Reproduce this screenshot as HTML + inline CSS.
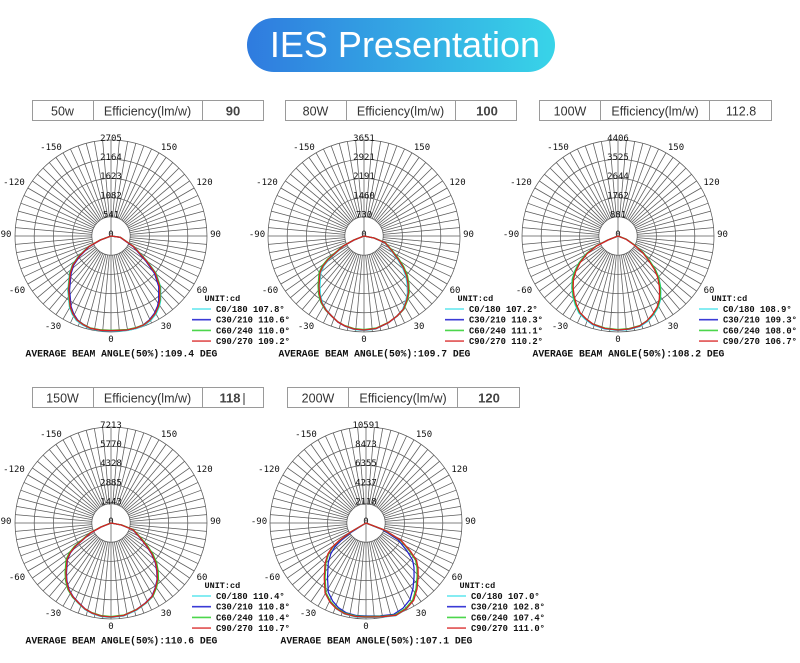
<!DOCTYPE html>
<html>
<head>
<meta charset="utf-8">
<style>
html,body{margin:0;padding:0;background:#fff;}
svg{display:block;}
.t{font-family:"Liberation Sans",Arial,sans-serif;}
.a{font-family:"DejaVu Sans Mono","Liberation Mono",monospace;font-size:9px;fill:#111;text-anchor:middle;}
.lg{font-family:"Liberation Mono",monospace;font-size:8.8px;font-weight:bold;fill:#111;}
.un{font-family:"Liberation Mono",monospace;font-size:8.5px;font-weight:bold;fill:#111;}
.av{font-family:"Liberation Mono",monospace;font-size:9.7px;font-weight:bold;fill:#111;}
.h{font-family:"Liberation Sans",Arial,sans-serif;font-size:12.5px;fill:#333;text-anchor:middle;}
.hv{font-family:"Liberation Sans",Arial,sans-serif;font-size:13px;fill:#444;text-anchor:middle;font-weight:bold;}
</style>
</head>
<body>
<svg width="800" height="663" viewBox="0 0 800 663" xmlns="http://www.w3.org/2000/svg" xmlns:xlink="http://www.w3.org/1999/xlink">
<defs>
<linearGradient id="pg" x1="0" x2="1" y1="0" y2="0">
<stop offset="0" stop-color="#2f7bdf"/>
<stop offset="1" stop-color="#38d4e8"/>
</linearGradient>
<path id="sp" d="M0,19.2V96M0,-19.2V-96"/>
<g id="grid" fill="none" stroke="#5a5a5a" stroke-width="0.75">
<circle r="19.2"/><circle r="38.4"/><circle r="57.6"/><circle r="76.8"/><circle r="96"/>
<path d="M0,-19.2V19.2"/>
<use href="#sp"/>
<use href="#sp" transform="rotate(5)"/>
<use href="#sp" transform="rotate(10)"/>
<use href="#sp" transform="rotate(15)"/>
<use href="#sp" transform="rotate(20)"/>
<use href="#sp" transform="rotate(25)"/>
<use href="#sp" transform="rotate(30)"/>
<use href="#sp" transform="rotate(35)"/>
<use href="#sp" transform="rotate(40)"/>
<use href="#sp" transform="rotate(45)"/>
<use href="#sp" transform="rotate(50)"/>
<use href="#sp" transform="rotate(55)"/>
<use href="#sp" transform="rotate(60)"/>
<use href="#sp" transform="rotate(65)"/>
<use href="#sp" transform="rotate(70)"/>
<use href="#sp" transform="rotate(75)"/>
<use href="#sp" transform="rotate(80)"/>
<use href="#sp" transform="rotate(85)"/>
<use href="#sp" transform="rotate(90)"/>
<use href="#sp" transform="rotate(95)"/>
<use href="#sp" transform="rotate(100)"/>
<use href="#sp" transform="rotate(105)"/>
<use href="#sp" transform="rotate(110)"/>
<use href="#sp" transform="rotate(115)"/>
<use href="#sp" transform="rotate(120)"/>
<use href="#sp" transform="rotate(125)"/>
<use href="#sp" transform="rotate(130)"/>
<use href="#sp" transform="rotate(135)"/>
<use href="#sp" transform="rotate(140)"/>
<use href="#sp" transform="rotate(145)"/>
<use href="#sp" transform="rotate(150)"/>
<use href="#sp" transform="rotate(155)"/>
<use href="#sp" transform="rotate(160)"/>
<use href="#sp" transform="rotate(165)"/>
<use href="#sp" transform="rotate(170)"/>
<use href="#sp" transform="rotate(175)"/>
</g>
<path id="c1" d="M0,0 L-10.7,4 L-22.3,10.7 L-32.3,20.7 L-38,29 L-40.7,37.3 L-42.3,54 L-40.7,70.7 L-38,78 L-34,84 L-28,88.5 L-20.7,92.3 L-10,94.3 L0,94.7 L16,94 L25,92 L32.7,89 L39,84 L44.3,77.3 L47.5,70 L48.7,64 L48.7,50.7 L44.3,37.3 L36,25.7 L22.7,10.7 L9.3,1.3 Z"/>
<path id="c2" d="M0,0 L-10,4 L-20.7,10 L-35.7,23.3 L-41,30 L-44,36.7 L-45,50 L-44.5,58 L-42.3,66.7 L-38,74 L-32.3,80 L-26,86 L-19,90 L-10,93 L0,94 L12,92.5 L24.3,86.7 L33,80 L39.3,73.3 L42.5,65 L44.3,56.7 L44,48 L42.7,40 L39,31 L34.3,23.3 L28,15 L21,6.7 L10,2 Z"/>
<path id="c3" d="M0,0 L-10,4 L-21.7,10 L-31,17.5 L-38.3,26.7 L-42.5,35 L-45,43.3 L-45.3,52 L-44.3,60 L-42,68.5 L-38.3,76.7 L-32,83 L-25,88.3 L-13,92.5 L0,94 L11,93 L21.7,90 L29,85 L35,78.3 L39.5,71 L41.7,63.3 L42,56 L41.7,50 L40,41 L36.7,33.3 L31,24.5 L25,16.7 L17,9.5 L8.3,3.3 Z"/>
<path id="c4" d="M0,0 L-10,4 L-20.7,10 L-35.7,23.3 L-41,30 L-44,36.7 L-45,50 L-44.5,58 L-42.3,66.7 L-38,74 L-32.3,80 L-26,86 L-19,90 L-10,93 L0,94 L12.6,92.5 L25.5,86.7 L34.6,80 L41.3,73.3 L44.6,65 L46.5,56.7 L46.2,48 L44.8,40 L41,31 L36,23.3 L29.4,15 L22,6.7 L10.5,2 Z"/>
<path id="c5" d="M0,0 L-15,9 L-26,17.5 L-32.7,24 L-37,31 L-39.7,40 L-40.5,55 L-39.7,70 L-35,79 L-29,85.5 L-21,90.6 L-10,93.5 L0,94 L15,93.8 L29,92.3 L39,86 L46.3,77.3 L49.5,66 L50.6,54 L50.5,45 L49,37.3 L43,28 L34,17.3 L18,7 Z"/>
</defs>

<rect x="0" y="0" width="800" height="663" fill="#fff"/>

<!-- Title -->
<rect x="247" y="18" width="308" height="54" rx="27" ry="27" fill="url(#pg)"/>
<text class="t" x="405" y="57" font-size="36" fill="#fff" text-anchor="middle">IES Presentation</text>

<!-- Header boxes -->
<g fill="none" stroke="#9a9a9a" stroke-width="1">
<rect x="32.5" y="100.5" width="231" height="20"/><path d="M93.5,100.5V120.5M202.5,100.5V120.5"/>
<rect x="285.5" y="100.5" width="231" height="20"/><path d="M346.5,100.5V120.5M455.5,100.5V120.5"/>
<rect x="539.5" y="100.5" width="232" height="20"/><path d="M600.5,100.5V120.5M709.5,100.5V120.5"/>
<rect x="32.5" y="387.5" width="231" height="20"/><path d="M93.5,387.5V407.5M202.5,387.5V407.5"/>
<rect x="287.5" y="387.5" width="232" height="20"/><path d="M348.5,387.5V407.5M457.5,387.5V407.5"/>
</g>
<text class="h" x="62.5" y="115.5" font-size="13">50w</text>
<text class="h" x="147.5" y="115.5">Efficiency(lm/w)</text>
<text class="hv" x="233" y="115.5">90</text>

<text class="h" x="315.5" y="115.5" font-size="13">80W</text>
<text class="h" x="400.5" y="115.5">Efficiency(lm/w)</text>
<text class="hv" x="487" y="115.5">100</text>

<text class="h" x="570" y="115.5" font-size="13">100W</text>
<text class="h" x="655" y="115.5">Efficiency(lm/w)</text>
<text class="h" x="741" y="115.5" font-size="13">112.8</text>

<text class="h" x="62.5" y="402.5" font-size="13">150W</text>
<text class="h" x="147.5" y="402.5">Efficiency(lm/w)</text>
<text class="hv" x="230" y="402.5">118</text>
<text class="h" x="244" y="402.5" fill="#ccc" font-size="11">|</text>

<text class="h" x="318" y="402.5" font-size="13">200W</text>
<text class="h" x="403" y="402.5">Efficiency(lm/w)</text>
<text class="hv" x="489" y="402.5">120</text>

<!-- Chart 1 -->
<g transform="translate(111,236)">
<use href="#grid"/>
<text class="a" x="0" y="0.8">0</text>
<text class="a" x="0" y="-18.4">541</text>
<text class="a" x="0" y="-37.6">1082</text>
<text class="a" x="0" y="-56.8">1623</text>
<text class="a" x="0" y="-76">2164</text>
<text class="a" x="0" y="-95.2">2705</text>
<text class="a" x="-60" y="-86">-150</text>
<text class="a" x="58" y="-86">150</text>
<text class="a" x="-97" y="-51">-120</text>
<text class="a" x="93.5" y="-51">120</text>
<text class="a" x="-105" y="1">90</text>
<text class="a" x="104.5" y="1">90</text>
<text class="a" x="-94" y="57">-60</text>
<text class="a" x="91" y="57">60</text>
<text class="a" x="-58" y="93">-30</text>
<text class="a" x="55" y="93">30</text>
<text class="a" x="0" y="106">0</text>
<g fill="none" stroke-width="1.3" stroke-linejoin="round">
<use href="#c1" stroke="#30e0ea" transform="scale(1.02,1.005)"/>
<use href="#c1" stroke="#2222cc" transform="scale(0.98,1)"/>
<use href="#c1" stroke="#30c830" transform="scale(1.01,0.995)"/>
<use href="#c1" stroke="#d82222"/>
</g>
<text class="un" x="93.5" y="65">UNIT:cd</text>
<g stroke-width="1.6">
<line x1="81" y1="73" x2="100" y2="73" stroke="#5ee6ee"/>
<line x1="81" y1="83.7" x2="100" y2="83.7" stroke="#3b3bd6"/>
<line x1="81" y1="94.4" x2="100" y2="94.4" stroke="#4cd64c"/>
<line x1="81" y1="105.1" x2="100" y2="105.1" stroke="#e05050"/>
</g>
<text class="lg" x="105" y="76">C0/180 107.8°</text>
<text class="lg" x="105" y="86.7">C30/210 110.6°</text>
<text class="lg" x="105" y="97.4">C60/240 110.0°</text>
<text class="lg" x="105" y="108.1">C90/270 109.2°</text>
<text class="av" x="-85.5" y="120.3">AVERAGE BEAM ANGLE(50%):109.4 DEG</text>
</g>

<!-- Chart 2 -->
<g transform="translate(364,236)">
<use href="#grid"/>
<text class="a" x="0" y="0.8">0</text>
<text class="a" x="0" y="-18.4">730</text>
<text class="a" x="0" y="-37.6">1460</text>
<text class="a" x="0" y="-56.8">2191</text>
<text class="a" x="0" y="-76">2921</text>
<text class="a" x="0" y="-95.2">3651</text>
<text class="a" x="-60" y="-86">-150</text>
<text class="a" x="58" y="-86">150</text>
<text class="a" x="-97" y="-51">-120</text>
<text class="a" x="93.5" y="-51">120</text>
<text class="a" x="-107" y="1">-90</text>
<text class="a" x="104.5" y="1">90</text>
<text class="a" x="-94" y="57">-60</text>
<text class="a" x="91" y="57">60</text>
<text class="a" x="-58" y="93">-30</text>
<text class="a" x="55" y="93">30</text>
<text class="a" x="0" y="106">0</text>
<g fill="none" stroke-width="1.3" stroke-linejoin="round">
<use href="#c2" stroke="#30e0ea" transform="scale(0.98,1.005)"/>
<use href="#c2" stroke="#2222cc" transform="scale(1.01,1)"/>
<use href="#c2" stroke="#30c830" transform="scale(1.02,0.995)"/>
<use href="#c2" stroke="#d82222"/>
</g>
<text class="un" x="93.5" y="65">UNIT:cd</text>
<g stroke-width="1.6">
<line x1="81" y1="73" x2="100" y2="73" stroke="#5ee6ee"/>
<line x1="81" y1="83.7" x2="100" y2="83.7" stroke="#3b3bd6"/>
<line x1="81" y1="94.4" x2="100" y2="94.4" stroke="#4cd64c"/>
<line x1="81" y1="105.1" x2="100" y2="105.1" stroke="#e05050"/>
</g>
<text class="lg" x="105" y="76">C0/180 107.2°</text>
<text class="lg" x="105" y="86.7">C30/210 110.3°</text>
<text class="lg" x="105" y="97.4">C60/240 111.1°</text>
<text class="lg" x="105" y="108.1">C90/270 110.2°</text>
<text class="av" x="-85.5" y="120.3">AVERAGE BEAM ANGLE(50%):109.7 DEG</text>
</g>

<!-- Chart 3 -->
<g transform="translate(618,236)">
<use href="#grid"/>
<text class="a" x="0" y="0.8">0</text>
<text class="a" x="0" y="-18.4">881</text>
<text class="a" x="0" y="-37.6">1762</text>
<text class="a" x="0" y="-56.8">2644</text>
<text class="a" x="0" y="-76">3525</text>
<text class="a" x="0" y="-95.2">4406</text>
<text class="a" x="-60" y="-86">-150</text>
<text class="a" x="58" y="-86">150</text>
<text class="a" x="-97" y="-51">-120</text>
<text class="a" x="93.5" y="-51">120</text>
<text class="a" x="-107" y="1">-90</text>
<text class="a" x="104.5" y="1">90</text>
<text class="a" x="-94" y="57">-60</text>
<text class="a" x="91" y="57">60</text>
<text class="a" x="-58" y="93">-30</text>
<text class="a" x="55" y="93">30</text>
<text class="a" x="0" y="106">0</text>
<g fill="none" stroke-width="1.3" stroke-linejoin="round">
<use href="#c3" stroke="#30e0ea" transform="scale(1.02,1.005)"/>
<use href="#c3" stroke="#2222cc" transform="scale(1.0,1)"/>
<use href="#c3" stroke="#30c830" transform="scale(1.01,0.995)"/>
<use href="#c3" stroke="#d82222" transform="scale(0.99,1)"/>
</g>
<text class="un" x="93.5" y="65">UNIT:cd</text>
<g stroke-width="1.6">
<line x1="81" y1="73" x2="100" y2="73" stroke="#5ee6ee"/>
<line x1="81" y1="83.7" x2="100" y2="83.7" stroke="#3b3bd6"/>
<line x1="81" y1="94.4" x2="100" y2="94.4" stroke="#4cd64c"/>
<line x1="81" y1="105.1" x2="100" y2="105.1" stroke="#e05050"/>
</g>
<text class="lg" x="105" y="76">C0/180 108.9°</text>
<text class="lg" x="105" y="86.7">C30/210 109.3°</text>
<text class="lg" x="105" y="97.4">C60/240 108.0°</text>
<text class="lg" x="105" y="108.1">C90/270 106.7°</text>
<text class="av" x="-85.5" y="120.3">AVERAGE BEAM ANGLE(50%):108.2 DEG</text>
</g>

<!-- Chart 4 -->
<g transform="translate(111,523)">
<use href="#grid"/>
<text class="a" x="0" y="0.8">0</text>
<text class="a" x="0" y="-18.4">1443</text>
<text class="a" x="0" y="-37.6">2885</text>
<text class="a" x="0" y="-56.8">4328</text>
<text class="a" x="0" y="-76">5770</text>
<text class="a" x="0" y="-95.2">7213</text>
<text class="a" x="-60" y="-86">-150</text>
<text class="a" x="58" y="-86">150</text>
<text class="a" x="-97" y="-51">-120</text>
<text class="a" x="93.5" y="-51">120</text>
<text class="a" x="-105" y="1">90</text>
<text class="a" x="104.5" y="1">90</text>
<text class="a" x="-94" y="57">-60</text>
<text class="a" x="91" y="57">60</text>
<text class="a" x="-58" y="93">-30</text>
<text class="a" x="55" y="93">30</text>
<text class="a" x="0" y="106">0</text>
<g fill="none" stroke-width="1.3" stroke-linejoin="round">
<use href="#c4" stroke="#30e0ea" transform="scale(1.01,1.005)"/>
<use href="#c4" stroke="#2222cc" transform="scale(0.99,1)"/>
<use href="#c4" stroke="#30c830" transform="scale(1.02,0.995)"/>
<use href="#c4" stroke="#d82222"/>
</g>
<text class="un" x="93.5" y="65">UNIT:cd</text>
<g stroke-width="1.6">
<line x1="81" y1="73" x2="100" y2="73" stroke="#5ee6ee"/>
<line x1="81" y1="83.7" x2="100" y2="83.7" stroke="#3b3bd6"/>
<line x1="81" y1="94.4" x2="100" y2="94.4" stroke="#4cd64c"/>
<line x1="81" y1="105.1" x2="100" y2="105.1" stroke="#e05050"/>
</g>
<text class="lg" x="105" y="76">C0/180 110.4°</text>
<text class="lg" x="105" y="86.7">C30/210 110.8°</text>
<text class="lg" x="105" y="97.4">C60/240 110.4°</text>
<text class="lg" x="105" y="108.1">C90/270 110.7°</text>
<text class="av" x="-85.5" y="120.3">AVERAGE BEAM ANGLE(50%):110.6 DEG</text>
</g>

<!-- Chart 5 -->
<g transform="translate(366,523)">
<use href="#grid"/>
<text class="a" x="0" y="0.8">0</text>
<text class="a" x="0" y="-18.4">2118</text>
<text class="a" x="0" y="-37.6">4237</text>
<text class="a" x="0" y="-56.8">6355</text>
<text class="a" x="0" y="-76">8473</text>
<text class="a" x="0" y="-95.2">10591</text>
<text class="a" x="-60" y="-86">-150</text>
<text class="a" x="58" y="-86">150</text>
<text class="a" x="-97" y="-51">-120</text>
<text class="a" x="93.5" y="-51">120</text>
<text class="a" x="-107" y="1">-90</text>
<text class="a" x="104.5" y="1">90</text>
<text class="a" x="-94" y="57">-60</text>
<text class="a" x="91" y="57">60</text>
<text class="a" x="-58" y="93">-30</text>
<text class="a" x="55" y="93">30</text>
<text class="a" x="0" y="106">0</text>
<g fill="none" stroke-width="1.3" stroke-linejoin="round">
<use href="#c5" stroke="#30e0ea" transform="scale(1.02,1.005)"/>
<use href="#c5" stroke="#2222cc" transform="scale(0.95,0.99)"/>
<use href="#c5" stroke="#30c830" transform="scale(1.01,0.995)"/>
<use href="#c5" stroke="#d82222" transform="scale(1.03,1)"/>
</g>
<text class="un" x="93.5" y="65">UNIT:cd</text>
<g stroke-width="1.6">
<line x1="81" y1="73" x2="100" y2="73" stroke="#5ee6ee"/>
<line x1="81" y1="83.7" x2="100" y2="83.7" stroke="#3b3bd6"/>
<line x1="81" y1="94.4" x2="100" y2="94.4" stroke="#4cd64c"/>
<line x1="81" y1="105.1" x2="100" y2="105.1" stroke="#e05050"/>
</g>
<text class="lg" x="105" y="76">C0/180 107.0°</text>
<text class="lg" x="105" y="86.7">C30/210 102.8°</text>
<text class="lg" x="105" y="97.4">C60/240 107.4°</text>
<text class="lg" x="105" y="108.1">C90/270 111.0°</text>
<text class="av" x="-85.5" y="120.3">AVERAGE BEAM ANGLE(50%):107.1 DEG</text>
</g>
</svg>
</body>
</html>
